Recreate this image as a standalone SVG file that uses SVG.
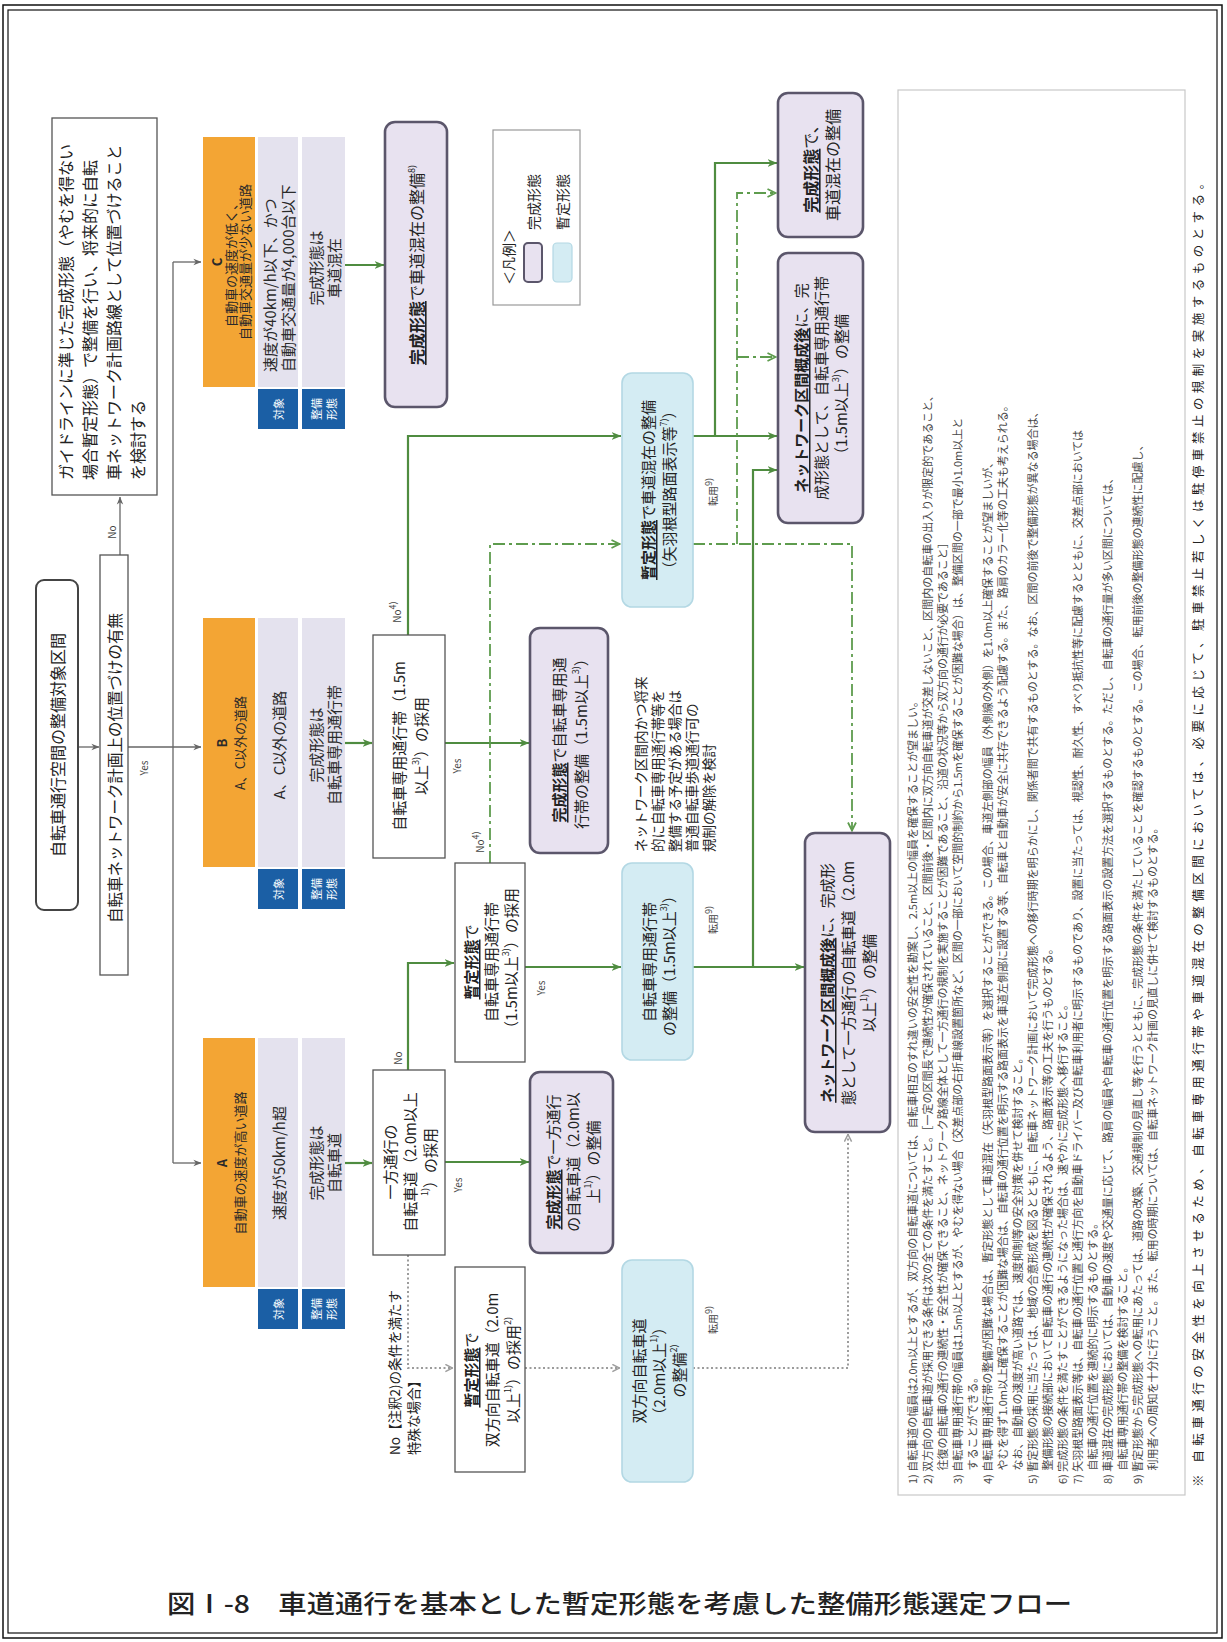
<svg xmlns="http://www.w3.org/2000/svg" width="1227" height="1642" viewBox="0 0 1227 1642">
<defs>
<style>
text { font-family: "Noto Sans CJK JP", "Noto Sans", sans-serif; fill: #222; dominant-baseline: central; }
.m { text-anchor: middle; }
.s { text-anchor: start; }
.bd { font-weight: 700; }
.bu { font-weight: 700; text-decoration: underline; }
.sp { font-size: 9px; }
.box { fill: #fff; stroke: #555; stroke-width: 1.3; }
.fin { fill: #e8e2f0; stroke: #5b566b; stroke-width: 2.6; }
.tmp { fill: #d4ecf3; stroke: #b3d8e4; stroke-width: 1.6; }
.hdr { fill: #f3a534; }
.cell { fill: #e4e2ee; }
.tag { fill: #1b5fa5; }
.tagt { fill: #fff; font-size: 11px; }
.ht { font-size: 13px; fill: #2a2a2a; }
.ct { font-size: 15px; fill: #2a2a2a; }
.g { fill: none; stroke: #4f8c40; stroke-width: 2.2; }
.gdd { fill: none; stroke: #5e9c4e; stroke-width: 1.8; stroke-dasharray: 12 4 3 4; }
.dot { fill: none; stroke: #9c9c9c; stroke-width: 2; stroke-dasharray: 2 2.5; }
.k { fill: none; stroke: #666; stroke-width: 1.3; }
.note { font-size: 11px; fill: #484848; text-anchor: start; }
.lab { font-size: 10px; fill: #444; }
.bt { font-size: 15px; }
</style>
<marker id="ag" viewBox="0 0 10 10" refX="9.5" refY="5" markerWidth="10" markerHeight="10" markerUnits="userSpaceOnUse" orient="auto">
<path d="M0,1 L10,5 L0,9 L3,5 z" fill="#4f8c40"/>
</marker>
<marker id="agd" viewBox="0 0 10 10" refX="9.5" refY="5" markerWidth="10" markerHeight="10" markerUnits="userSpaceOnUse" orient="auto">
<path d="M1,1 L9,5 L1,9" fill="none" stroke="#5e9c4e" stroke-width="1.8"/>
</marker>
<marker id="ak" viewBox="0 0 10 10" refX="9.5" refY="5" markerWidth="8" markerHeight="8" markerUnits="userSpaceOnUse" orient="auto">
<path d="M0,1 L10,5 L0,9 L3,5 z" fill="#666"/>
</marker>
<marker id="ad" viewBox="0 0 10 10" refX="9.5" refY="5" markerWidth="9" markerHeight="9" markerUnits="userSpaceOnUse" orient="auto">
<path d="M1,1 L9,5 L1,9" fill="none" stroke="#9c9c9c" stroke-width="1.6"/>
</marker>
</defs>

<rect width="1227" height="1642" fill="#fff"/>

<!-- page frame -->
<rect x="3" y="5" width="1219" height="1633" fill="none" stroke="#111" stroke-width="1.5"/>
<rect x="8" y="10" width="1209" height="1623" fill="none" stroke="#111" stroke-width="1.2"/>

<!-- connectors -->
<g id="connectors">
  <path class="k" d="M78,747 H99" marker-end="url(#ak)"/>
  <path class="k" d="M120,555 V497" marker-end="url(#ak)"/>
  <path class="k" d="M128,747 H201" marker-end="url(#ak)"/>
  <path class="k" d="M173,262 V1163"/>
  <path class="k" d="M173,262 H201" marker-end="url(#ak)"/>
  <path class="k" d="M173,1163 H201" marker-end="url(#ak)"/>

  <path class="g" d="M345,265 H384" marker-end="url(#ag)"/>
  <path class="g" d="M345,743 H372" marker-end="url(#ag)"/>
  <path class="g" d="M345,1163 H372" marker-end="url(#ag)"/>

  <path class="g" d="M445,743 H529" marker-end="url(#ag)"/>
  <path class="g" d="M445,1162 H529" marker-end="url(#ag)"/>
  <path class="g" d="M408,635 V436 H621" marker-end="url(#ag)"/>
  <path class="g" d="M408,1070 V963 H454" marker-end="url(#ag)"/>
  <path class="g" d="M525,967 H621" marker-end="url(#ag)"/>
  <path class="g" d="M693,436 H777" marker-end="url(#ag)"/>
  <path class="g" d="M715,436 V163 H777" marker-end="url(#ag)"/>
  <path class="g" d="M693,967 H804" marker-end="url(#ag)"/>
  <path class="g" d="M753,967 V470 H777" marker-end="url(#ag)"/>

  <path class="gdd" d="M490,863 V544 H620" marker-end="url(#agd)"/>
  <path class="gdd" d="M693,544 H852 V831" marker-end="url(#agd)"/>
  <path class="gdd" d="M737,544 V193 H776" marker-end="url(#agd)"/>
  <path class="gdd" d="M737,357 H776" marker-end="url(#agd)"/>

  <path class="dot" d="M408,1255 V1368 H453" marker-end="url(#ad)"/>
  <path class="dot" d="M525,1368 H620" marker-end="url(#ad)"/>
  <path class="dot" d="M693,1368 H848 V1134" marker-end="url(#ad)"/>

  <text class="lab m" transform="translate(111,532) rotate(-90)">No</text>
  <text class="lab m" transform="translate(143,768) rotate(-90)">Yes</text>
  <text class="lab m" transform="translate(396,612) rotate(-90)">No<tspan class="sp" dy="-4">4)</tspan></text>
  <text class="lab m" transform="translate(456,766) rotate(-90)">Yes</text>
  <text class="lab m" transform="translate(397,1058) rotate(-90)">No</text>
  <text class="lab m" transform="translate(457,1185) rotate(-90)">Yes</text>
  <text class="lab m" transform="translate(479,842) rotate(-90)">No<tspan class="sp" dy="-4">4)</tspan></text>
  <text class="lab m" transform="translate(540,988) rotate(-90)">Yes</text>
  <text class="lab m" transform="translate(712,492) rotate(-90)">転用<tspan class="sp" dy="-4">9)</tspan></text>
  <text class="lab m" transform="translate(712,920) rotate(-90)">転用<tspan class="sp" dy="-4">9)</tspan></text>
  <text class="lab m" transform="translate(712,1320) rotate(-90)">転用<tspan class="sp" dy="-4">9)</tspan></text>
  <text class="s" font-size="13.5" transform="translate(394,1455) rotate(-90)">No【注釈2)の条件を満たす</text>
  <text class="s" font-size="13.5" transform="translate(413,1455) rotate(-90)">特殊な場合】</text>
</g>

<!-- start -->
<g id="start">
  <rect x="36" y="580" width="42" height="330" rx="8" fill="#fff" stroke="#444" stroke-width="2"/>
  <text class="m" font-size="16" transform="translate(57,745) rotate(-90)">自転車通行空間の整備対象区間</text>
</g>

<g id="network-check">
  <rect class="box" x="100" y="555" width="28" height="420"/>
  <text class="m" font-size="15.5" transform="translate(114,768) rotate(-90)">自転車ネットワーク計画上の位置づけの有無</text>
</g>

<g id="guideline">
  <rect class="box" x="52" y="118" width="105" height="377"/>
  <text class="s" font-size="16" transform="translate(65,480) rotate(-90)">ガイドラインに準じた完成形態（やむを得ない</text>
  <text class="s" font-size="16" transform="translate(89,480) rotate(-90)">場合暫定形態）で整備を行い、将来的に自転</text>
  <text class="s" font-size="16" transform="translate(113,480) rotate(-90)">車ネットワーク計画路線として位置づけること</text>
  <text class="s" font-size="16" transform="translate(137,480) rotate(-90)">を検討する</text>
</g>

<!-- category C -->
<g id="cat-c">
  <rect class="hdr" x="203" y="137" width="52" height="250"/>
  <rect class="cell" x="258" y="137" width="40" height="250"/>
  <rect class="cell" x="302" y="137" width="43" height="250"/>
  <rect class="tag" x="258" y="389" width="40" height="40"/>
  <rect class="tag" x="302" y="389" width="43" height="40"/>
  <text class="ht m bd" transform="translate(216,262) rotate(-90)">C</text>
  <text class="ht m" transform="translate(230,262) rotate(-90)">自動車の速度が低く、</text>
  <text class="ht m" transform="translate(244,262) rotate(-90)">自動車交通量が少ない道路</text>
  <text class="ct s" transform="translate(269,372) rotate(-90)">速度が40km/h以下、かつ</text>
  <text class="ct s" transform="translate(287,372) rotate(-90)">自動車交通量が4,000台以下</text>
  <text class="ct m" transform="translate(315,268) rotate(-90)">完成形態は</text>
  <text class="ct m" transform="translate(333,268) rotate(-90)">車道混在</text>
  <text class="tagt m" transform="translate(278,409) rotate(-90)">対象</text>
  <text class="tagt m" transform="translate(316,409) rotate(-90)">整備</text>
  <text class="tagt m" transform="translate(331,409) rotate(-90)">形態</text>
</g>

<!-- category B -->
<g id="cat-b">
  <rect class="hdr" x="203" y="618" width="52" height="249"/>
  <rect class="cell" x="258" y="618" width="40" height="249"/>
  <rect class="cell" x="302" y="618" width="43" height="249"/>
  <rect class="tag" x="258" y="869" width="40" height="40"/>
  <rect class="tag" x="302" y="869" width="43" height="40"/>
  <text class="ht m bd" transform="translate(221,743) rotate(-90)">B</text>
  <text class="ht m" transform="translate(239,743) rotate(-90)">A、C以外の道路</text>
  <text class="ct m" transform="translate(278,745) rotate(-90)">A、C以外の道路</text>
  <text class="ct m" transform="translate(315,745) rotate(-90)">完成形態は</text>
  <text class="ct m" transform="translate(333,745) rotate(-90)">自転車専用通行帯</text>
  <text class="tagt m" transform="translate(278,889) rotate(-90)">対象</text>
  <text class="tagt m" transform="translate(316,889) rotate(-90)">整備</text>
  <text class="tagt m" transform="translate(331,889) rotate(-90)">形態</text>
</g>

<!-- category A -->
<g id="cat-a">
  <rect class="hdr" x="203" y="1038" width="52" height="249"/>
  <rect class="cell" x="258" y="1038" width="40" height="249"/>
  <rect class="cell" x="302" y="1038" width="43" height="249"/>
  <rect class="tag" x="258" y="1289" width="40" height="40"/>
  <rect class="tag" x="302" y="1289" width="43" height="40"/>
  <text class="ht m bd" transform="translate(221,1163) rotate(-90)">A</text>
  <text class="ht m" transform="translate(239,1163) rotate(-90)">自動車の速度が高い道路</text>
  <text class="ct m" transform="translate(278,1163) rotate(-90)">速度が50km/h超</text>
  <text class="ct m" transform="translate(315,1163) rotate(-90)">完成形態は</text>
  <text class="ct m" transform="translate(333,1163) rotate(-90)">自転車道</text>
  <text class="tagt m" transform="translate(278,1309) rotate(-90)">対象</text>
  <text class="tagt m" transform="translate(316,1309) rotate(-90)">整備</text>
  <text class="tagt m" transform="translate(331,1309) rotate(-90)">形態</text>
</g>

<!-- outcome for C -->
<g id="c-final">
  <rect class="fin" x="385" y="122" width="62" height="285" rx="10"/>
  <text class="m" font-size="16" transform="translate(416,265) rotate(-90)"><tspan class="bu">完成形態</tspan>で車道混在の整備<tspan class="sp" dy="-5">8)</tspan></text>
</g>

<!-- B branch -->
<g id="b-decision">
  <rect class="box" x="373" y="635" width="72" height="223"/>
  <text class="m bt" transform="translate(398,746) rotate(-90)">自転車専用通行帯（1.5m</text>
  <text class="m bt" transform="translate(420,746) rotate(-90)">以上<tspan class="sp" dy="-5">3)</tspan><tspan dy="5">）の採用</tspan></text>
</g>

<g id="b-final">
  <rect class="fin" x="530" y="628" width="78" height="225" rx="10"/>
  <text class="m bt" transform="translate(558,740) rotate(-90)"><tspan class="bu">完成形態</tspan>で自転車専用通</text>
  <text class="m bt" transform="translate(580,740) rotate(-90)">行帯の整備（1.5m以上<tspan class="sp" dy="-5">3)</tspan><tspan dy="5">）</tspan></text>
</g>

<g id="b-remark">
  <text class="s" font-size="13.5" transform="translate(640,852) rotate(-90)">ネットワーク区間内かつ将来</text>
  <text class="s" font-size="13.5" transform="translate(657,852) rotate(-90)">的に自転車専用通行帯等を</text>
  <text class="s" font-size="13.5" transform="translate(674,852) rotate(-90)">整備する予定がある場合は</text>
  <text class="s" font-size="13.5" transform="translate(691,852) rotate(-90)">普通自転車歩道通行可の</text>
  <text class="s" font-size="13.5" transform="translate(708,852) rotate(-90)">規制の解除を検討</text>
</g>

<g id="c-temp">
  <rect class="tmp" x="622" y="373" width="71" height="234" rx="10"/>
  <text class="m bt" transform="translate(647,490) rotate(-90)"><tspan class="bu">暫定形態</tspan>で車道混在の整備</text>
  <text class="m bt" transform="translate(668,490) rotate(-90)">（矢羽根型路面表示等<tspan class="sp" dy="-5">7)</tspan><tspan dy="5">）</tspan></text>
</g>

<!-- A branch -->
<g id="a-decision">
  <rect class="box" x="373" y="1070" width="72" height="185"/>
  <text class="m bt" transform="translate(389,1162) rotate(-90)">一方通行の</text>
  <text class="m bt" transform="translate(409,1162) rotate(-90)">自転車道（2.0m以上</text>
  <text class="m bt" transform="translate(429,1162) rotate(-90)"><tspan class="sp" dy="-5">1)</tspan><tspan dy="5">）の採用</tspan></text>
</g>

<g id="a-final">
  <rect class="fin" x="530" y="1072" width="83" height="181" rx="10"/>
  <text class="m bt" transform="translate(552,1162) rotate(-90)"><tspan class="bu">完成形態</tspan>で一方通行</text>
  <text class="m bt" transform="translate(572,1162) rotate(-90)">の自転車道（2.0m以</text>
  <text class="m bt" transform="translate(592,1162) rotate(-90)">上<tspan class="sp" dy="-5">1)</tspan><tspan dy="5">）の整備</tspan></text>
</g>

<g id="lane-temp-decision">
  <rect class="box" x="455" y="863" width="70" height="199"/>
  <text class="m bt" transform="translate(470,962) rotate(-90)"><tspan class="bu">暫定形態</tspan>で</text>
  <text class="m bt" transform="translate(490,962) rotate(-90)">自転車専用通行帯</text>
  <text class="m bt" transform="translate(510,962) rotate(-90)">（1.5m以上<tspan class="sp" dy="-5">3)</tspan><tspan dy="5">）の採用</tspan></text>
</g>

<g id="lane-temp">
  <rect class="tmp" x="622" y="863" width="71" height="197" rx="10"/>
  <text class="m bt" transform="translate(648,962) rotate(-90)">自転車専用通行帯</text>
  <text class="m bt" transform="translate(668,962) rotate(-90)">の整備（1.5m以上<tspan class="sp" dy="-5">3)</tspan><tspan dy="5">）</tspan></text>
</g>

<g id="two-way-decision">
  <rect class="box" x="455" y="1267" width="70" height="205"/>
  <text class="m bt" transform="translate(470,1370) rotate(-90)"><tspan class="bu">暫定形態</tspan>で</text>
  <text class="m bt" transform="translate(491,1370) rotate(-90)">双方向自転車道（2.0m</text>
  <text class="m bt" transform="translate(512,1370) rotate(-90)">以上<tspan class="sp" dy="-5">1)</tspan><tspan dy="5">）の採用</tspan><tspan class="sp" dy="-5">2)</tspan></text>
</g>

<g id="two-way-temp">
  <rect class="tmp" x="622" y="1260" width="71" height="222" rx="10"/>
  <text class="m bt" transform="translate(638,1371) rotate(-90)">双方向自転車道</text>
  <text class="m bt" transform="translate(658,1371) rotate(-90)">（2.0m以上<tspan class="sp" dy="-5">1)</tspan><tspan dy="5">）</tspan></text>
  <text class="m bt" transform="translate(678,1371) rotate(-90)">の整備<tspan class="sp" dy="-5">2)</tspan></text>
</g>

<!-- final targets -->
<g id="mixed-final">
  <rect class="fin" x="778" y="93" width="85" height="144" rx="10"/>
  <text class="m" font-size="16" transform="translate(810,165) rotate(-90)"><tspan class="bu">完成形態</tspan>で、</text>
  <text class="m" font-size="16" transform="translate(832,165) rotate(-90)">車道混在の整備</text>
</g>

<g id="network-lane">
  <rect class="fin" x="778" y="253" width="85" height="270" rx="10"/>
  <text class="m bt" transform="translate(800,388) rotate(-90)"><tspan class="bu">ネットワーク区間概成後</tspan>に、完</text>
  <text class="m bt" transform="translate(820,388) rotate(-90)">成形態として、自転車専用通行帯</text>
  <text class="m bt" transform="translate(840,388) rotate(-90)">（1.5m以上<tspan class="sp" dy="-5">3)</tspan><tspan dy="5">）の整備</tspan></text>
</g>

<g id="network-track">
  <rect class="fin" x="805" y="833" width="85" height="299" rx="10"/>
  <text class="m bt" transform="translate(826,983) rotate(-90)"><tspan class="bu">ネットワーク区間概成後</tspan>に、完成形</text>
  <text class="m bt" transform="translate(847,983) rotate(-90)">態として一方通行の自転車道（2.0m</text>
  <text class="m bt" transform="translate(868,983) rotate(-90)">以上<tspan class="sp" dy="-5">1)</tspan><tspan dy="5">）の整備</tspan></text>
</g>

<!-- legend -->
<g id="legend">
  <rect x="493" y="130" width="87" height="175" fill="#fff" stroke="#999" stroke-width="1.2"/>
  <text class="s" font-size="14" transform="translate(508,285) rotate(-90)">＜凡例＞</text>
  <rect x="524" y="243" width="18" height="39" rx="4" fill="#e8e2f0" stroke="#5b566b" stroke-width="2"/>
  <rect x="553" y="243" width="19" height="39" rx="4" fill="#d4ecf3" stroke="#b3d8e4" stroke-width="1.2"/>
  <text class="s" font-size="14" transform="translate(533,230) rotate(-90)">完成形態</text>
  <text class="s" font-size="14" transform="translate(562,230) rotate(-90)">暫定形態</text>
</g>

<!-- notes -->
<g id="notes">
  <rect x="898" y="90" width="287" height="1405" fill="#fff" stroke="#c8c8c8" stroke-width="1.2"/>
  <text class="note" transform="translate(912,1484) rotate(-90)">1) 自転車道の幅員は2.0m以上とするが、双方向の自転車道については、自転車相互のすれ違いの安全性を勘案し、2.5m以上の幅員を確保することが望ましい。</text>
  <text class="note" transform="translate(927,1484) rotate(-90)">2) 双方向の自転車道が採用できる条件は次の全ての条件を満たすこと。［一定の区間長で連続性が確保されていること、区間前後・区間内に双方向自転車道が交差しないこと、区間内の自転車の出入りが限定的であること、</text>
  <text class="note" transform="translate(942,1484) rotate(-90)">　 往復の自転車の通行の連続性・安全性が確保できること、ネットワーク路線全体として一方通行の規制を実施することが困難であること、沿道の状況等から双方向の通行が必要であること］</text>
  <text class="note" transform="translate(957,1484) rotate(-90)">3) 自転車専用通行帯の幅員は1.5m以上とするが、やむを得ない場合（交差点部の右折車線設置箇所など、区間の一部において空間的制約から1.5mを確保することが困難な場合）は、整備区間の一部で最小1.0m以上と</text>
  <text class="note" transform="translate(972,1484) rotate(-90)">　 することができる。</text>
  <text class="note" transform="translate(987,1484) rotate(-90)">4) 自転車専用通行帯の整備が困難な場合は、暫定形態として車道混在（矢羽根型路面表示等）を選択することができる。この場合、車道左側部の幅員（外側線の外側）を1.0m以上確保することが望ましいが、</text>
  <text class="note" transform="translate(1002,1484) rotate(-90)">　 やむを得ず1.0m以上確保することが困難な場合は、自転車の通行位置を明示する路面表示を車道左側部に設置する等、自転車と自動車が安全に共存できるよう配慮する。また、路肩のカラー化等の工夫も考えられる。</text>
  <text class="note" transform="translate(1017,1484) rotate(-90)">　 なお、自動車の速度が高い道路では、速度抑制等の安全対策を併せて検討すること。</text>
  <text class="note" transform="translate(1032,1484) rotate(-90)">5) 暫定形態の採用に当たっては、地域の合意形成を図るとともに、自転車ネットワーク計画において完成形態への移行時期を明らかにし、関係者間で共有するものとする。なお、区間の前後で整備形態が異なる場合は、</text>
  <text class="note" transform="translate(1047,1484) rotate(-90)">　 整備形態の接続部において自転車の通行の連続性が確保されるよう、路面表示等の工夫を行うものとする。</text>
  <text class="note" transform="translate(1062,1484) rotate(-90)">6) 完成形態の条件を満たすことができるようになった場合は、速やかに完成形態へ移行すること。</text>
  <text class="note" transform="translate(1077,1484) rotate(-90)">7) 矢羽根型路面表示等は、自転車の通行位置と通行方向を自動車ドライバー及び自転車利用者に明示するものであり、設置に当たっては、視認性、耐久性、すべり抵抗性等に配慮するとともに、交差点部においては</text>
  <text class="note" transform="translate(1092,1484) rotate(-90)">　 自転車の通行位置を連続的に明示するものとする。</text>
  <text class="note" transform="translate(1107,1484) rotate(-90)">8) 車道混在の完成形態においては、自動車の速度や交通量に応じて、路肩の幅員や自転車の通行位置を明示する路面表示の設置方法を選択するものとする。ただし、自転車の通行量が多い区間については、</text>
  <text class="note" transform="translate(1122,1484) rotate(-90)">　 自転車専用通行帯の整備を検討すること。</text>
  <text class="note" transform="translate(1137,1484) rotate(-90)">9) 暫定形態から完成形態への転用にあたっては、道路の改築、交通規制の見直し等を行うとともに、完成形態の条件を満たしていることを確認するものとする。この場合、転用前後の整備形態の連続性に配慮し、</text>
  <text class="note" transform="translate(1152,1484) rotate(-90)">　 利用者への周知を十分に行うこと。また、転用の時期については、自転車ネットワーク計画の見直しに併せて検討するものとする。</text>
  <text class="s" font-size="12.5" fill="#333" textLength="1310" lengthAdjust="spacing" transform="translate(1197,1487) rotate(-90)">※ 自転車通行の安全性を向上させるため、自転車専用通行帯や車道混在の整備区間においては、必要に応じて、駐車禁止若しくは駐停車禁止の規制を実施するものとする。</text>
</g>

<!-- caption -->
<text x="167" y="1602" font-size="25" font-weight="500" fill="#111" textLength="905" lengthAdjust="spacingAndGlyphs">図Ⅰ-8　車道通行を基本とした暫定形態を考慮した整備形態選定フロー</text>
</svg>
